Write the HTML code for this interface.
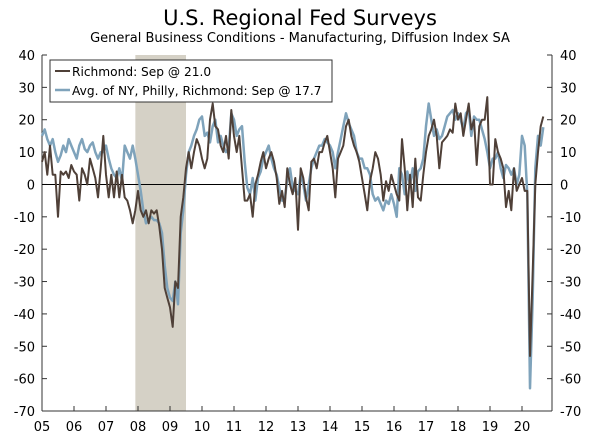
<!DOCTYPE html>
<html><head><meta charset="utf-8">
<style>
body{margin:0;background:#fff;font-family:"Liberation Sans","DejaVu Sans",sans-serif;}
svg text{font-family:"DejaVu Sans","Liberation Sans",sans-serif;}
</style></head>
<body>
<svg id="chart" width="600" height="437" viewBox="0 0 600 437" xmlns="http://www.w3.org/2000/svg">
<text x="300" y="25" text-anchor="middle" font-size="21" fill="#000">U.S. Regional Fed Surveys</text>
<text x="300" y="42" text-anchor="middle" font-size="13" fill="#000">General Business Conditions - Manufacturing, Diffusion Index SA</text>
<g id="plot"></g>
</svg>
<script>
const yTicks=[40,30,20,10,0,-10,-20,-30,-40,-50,-60,-70];
const xTickLabels=["05","06","07","08","09","10","11","12","13","14","15","16","17","18","19","20"];
const recession=[2007.917,2009.5];
const richmond=[
7,10,3,12,3,3,-10,4,3,4,2,6,
4,3,-5,5,3,0,8,5,2,-4,5,15,
3,-4,3,-4,4,-4,3,-4,-5,-8,-12,-8,
-2,-8,-10,-8,-12,-8,-9,-8,-13,-20,-32,-35,
-38,-44,-30,-32,-10,-4,5,10,5,10,14,12,
8,5,8,20,25,18,17,12,10,15,8,23,
15,10,15,5,-5,-5,-3,-10,0,3,7,10,
5,8,10,7,2,-6,-2,-7,5,0,-3,2,
-14,5,2,-4,-8,7,8,5,10,10,13,15,
10,5,-4,8,10,12,18,20,15,12,10,7,
2,-3,-8,1,5,10,8,3,-5,1,-2,3,
0,-3,-5,14,5,-8,3,-7,8,-4,-5,3,
10,15,17,20,15,5,13,14,15,17,16,25,
20,22,15,20,25,17,20,6,18,20,20,27,
0,0,14,10,8,5,-7,-2,-8,5,-2,0,
2,-2,-2,-53,-27,0,10,18,21];
const average=[
15,17,14,12,14,10,7,9,12,10,14,12,
10,8,12,14,11,10,12,13,10,8,10,10,
12,8,5,3,2,5,1,12,10,8,12,8,
3,-2,-8,-12,-11,-10,-11,-11,-12,-15,-25,-32,
-35,-36,-30,-37,-15,-8,3,10,12,15,17,20,
21,15,16,13,18,20,13,15,12,10,11,22,
20,15,17,18,7,-1,-3,2,-5,2,4,8,
10,12,8,5,3,-1,-5,-5,2,5,-1,-2,
-3,3,0,-5,0,5,8,10,12,12,14,13,
12,10,5,10,14,18,22,19,17,15,10,8,
8,5,5,3,-3,-5,-4,-6,-8,-5,-6,-3,
-6,-10,5,3,-3,4,0,5,-2,4,5,8,
18,25,20,15,17,14,15,18,21,22,23,20,
22,20,17,22,23,15,21,20,20,17,14,10,
5,8,8,10,5,2,6,5,3,5,0,3,
15,12,-3,-63,-35,5,15,12,17.7];
const L=42,R=552,T=55,B=411;
const x=t=>L+(t-2005)*32;
const y=v=>T+(40-v)*(B-T)/110;
const NS="http://www.w3.org/2000/svg";
const g=document.getElementById('plot');
function mk(tag,attrs,name,txt){const e=document.createElementNS(NS,tag);for(const k in attrs)e.setAttribute(k,attrs[k]);


if(txt!==undefined)e.textContent=txt;g.appendChild(e);return e;}
mk('rect',{x:x(recession[0]),y:T,width:x(recession[1])-x(recession[0]),height:B-T,fill:'#d5d1c6'},'recession-shading');
mk('line',{x1:L,y1:T,x2:L,y2:B,stroke:'#333','stroke-width':1},'left-axis');
mk('line',{x1:R,y1:T,x2:R,y2:B,stroke:'#333','stroke-width':1},'right-axis');
mk('line',{x1:L,y1:B,x2:R,y2:B,stroke:'#333','stroke-width':1},'x-axis');
yTicks.forEach(v=>{
 mk('line',{x1:L,y1:y(v),x2:L+5,y2:y(v),stroke:'#333'},'left-tick');
 mk('line',{x1:R-5,y1:y(v),x2:R,y2:y(v),stroke:'#333'},'right-tick');
 mk('text',{x:L-7,y:y(v)+5,'text-anchor':'end','font-size':13},'left-tick-label',v);
 mk('text',{x:R+8,y:y(v)+5,'text-anchor':'start','font-size':13},'right-tick-label',v);
});
xTickLabels.forEach((s,i)=>{
 mk('line',{x1:x(2005+i),y1:B,x2:x(2005+i),y2:B-5,stroke:'#333'},'x-tick');
 mk('text',{x:x(2005+i),y:B+20,'text-anchor':'middle','font-size':13},'x-tick-label',s);
});
mk('line',{x1:L,y1:y(0),x2:R,y2:y(0),stroke:'#000','stroke-width':1},'zero-line');
function path(arr){return arr.map((v,i)=>(i?'L':'M')+x(2005+i/12).toFixed(1)+' '+y(v).toFixed(1)).join(' ');}
mk('path',{d:path(average),fill:'none',stroke:'#7fa3bb','stroke-width':2.5,'stroke-linejoin':'round'},'average-line');
mk('path',{d:path(richmond),fill:'none',stroke:'#4f4038','stroke-width':2,'stroke-linejoin':'round'},'richmond-line');
mk('rect',{x:50,y:60,width:282,height:42,fill:'#fff',stroke:'#333'},'legend-box');
mk('line',{x1:55,y1:71,x2:70,y2:71,stroke:'#4f4038','stroke-width':2},'legend-richmond-swatch');
mk('text',{x:72,y:76,'font-size':12.2},'legend-richmond-label','Richmond: Sep @ 21.0');
mk('line',{x1:55,y1:90,x2:70,y2:90,stroke:'#7fa3bb','stroke-width':2.5},'legend-average-swatch');
mk('text',{x:72,y:95,'font-size':12.2},'legend-average-label','Avg. of NY, Philly, Richmond: Sep @ 17.7');
</script>
</body></html>
